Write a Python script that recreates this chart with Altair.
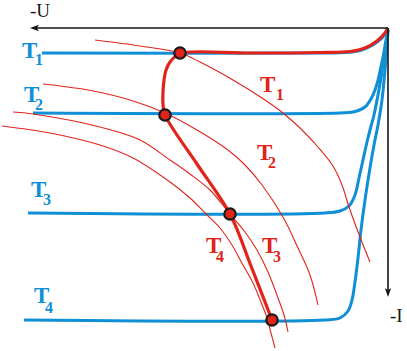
import altair as alt
import pandas as pd

BLUE = "#0e8fd6"
RED = "#e2231a"
BLACK = "#151515"

# ---- Blue isotherm curves (U leftwards from origin, I downwards) ----
BLUE_T1_U = [346, 60, 43, 33, 25, 17, 11, 6, 3, 0]
BLUE_T1_I = [25, 25, 24.6, 23.5, 21.5, 18, 14, 10, 5.5, 0]
BLUE_T2_U = [355, 48, 35, 23, 16, 11, 8, 5, 2, 0]
BLUE_T2_I = [85, 85, 84, 79, 69, 56, 43, 29, 12, 2]
BLUE_T3_U = [360, 63, 48, 39, 33, 29, 25, 21, 18, 14, 10, 6, 3, 1, 0]
BLUE_T3_I = [185, 185, 183, 178, 167, 150, 132, 114, 102, 87, 67, 44, 22, 10, 2]
BLUE_T4_U = [364, 63, 48, 40, 36, 33, 30, 27, 23, 18, 14, 10, 6, 3, 1, 0]
BLUE_T4_I = [292, 292, 290, 283, 272, 254, 230, 202, 172, 140, 117, 97, 72, 42, 17, 2]

# ---- Red thin curves ----
RED_T1_U = [293, 248, 208, 188, 155, 123, 105, 88, 70, 55, 46, 39, 28, 18]
RED_T1_I = [12, 18, 25, 34, 52, 72, 85, 100, 119, 138, 157, 179, 209, 234]
RED_T2_U = [345, 300, 258, 223, 191, 160, 143, 126, 105, 90, 78, 70]
RED_T2_I = [56, 62, 72, 85, 102, 122, 137, 157, 189, 220, 247, 277]
RED_T3_U = [375, 355, 288, 248, 218, 198, 178, 158, 143, 131, 120, 110, 104, 100]
RED_T3_I = [84, 86, 99, 112, 132, 146, 162, 186, 204, 222, 244, 270, 287, 304]
RED_T4_U = [386, 338, 288, 255, 218, 198, 183, 168, 156, 145, 135, 127, 121, 117, 113]
RED_T4_I = [98, 105, 117, 130, 154, 170, 185, 200, 217, 237, 255, 274, 290, 305, 320]

# ---- Red thick locus ----
LOCUS_U = [0, 3, 11, 23, 38, 68, 138, 203, 212, 218, 222, 224, 225, 225, 223, 191, 158, 137, 116]
LOCUS_I = [0, 5, 13, 20, 23.5, 24.5, 25, 24.5, 28, 34, 42, 52, 64, 76, 87, 136, 186, 238, 292]

# ---- Operating points ----
DOT_U = [208, 223, 158, 116]
DOT_I = [25, 87, 186, 292]

# ---- Labels ----
LAB_MAIN = ["T", "T", "T", "T", "T", "T", "T", "T"]
LAB_SUB = ["1", "2", "3", "4", "1", "2", "3", "4"]
LAB_COLOR = [BLUE, BLUE, BLUE, BLUE, RED, RED, RED, RED]
LAB_U = [366, 364, 357, 354, 128, 131, 126, 182]
LAB_I = [30, 74, 169, 275, 64, 132, 225, 225]
SUB_U = [353, 353, 345, 343, 112, 120, 115, 172]
SUB_I = [37, 82, 177, 285, 72, 140, 234, 234]

AXIS_TEXT = ["-U", "-I"]
AXIS_TEXT_U = [358, -2]
AXIS_TEXT_I = [-11, 294]

# axes: origin and extents
AX_H_U = [0, 352]
AX_H_I = [0, 0]
AX_V_U = [0, 0]
AX_V_I = [0, 262]
ARROW_U = [353.5, 0]
ARROW_I = [0, 264.5]


def frame(name, us, iis):
    return pd.DataFrame({"curve": name, "U": us, "I": iis, "k": list(range(len(us)))})


blue_df = pd.concat([
    frame("b1", BLUE_T1_U, BLUE_T1_I),
    frame("b2", BLUE_T2_U, BLUE_T2_I),
    frame("b3", BLUE_T3_U, BLUE_T3_I),
    frame("b4", BLUE_T4_U, BLUE_T4_I),
])
red_df = pd.concat([
    frame("r1", RED_T1_U, RED_T1_I),
    frame("r2", RED_T2_U, RED_T2_I),
    frame("r3", RED_T3_U, RED_T3_I),
    frame("r4", RED_T4_U, RED_T4_I),
])
locus_df = frame("locus", LOCUS_U, LOCUS_I)
dots_df = pd.DataFrame({"U": DOT_U, "I": DOT_I})
axes_df = pd.concat([frame("h", AX_H_U, AX_H_I), frame("v", AX_V_U, AX_V_I)])
main_df = pd.DataFrame({"U": LAB_U, "I": LAB_I, "t": LAB_MAIN, "c": LAB_COLOR})
sub_df = pd.DataFrame({"U": SUB_U, "I": SUB_I, "t": LAB_SUB, "c": LAB_COLOR})
axt_df = pd.DataFrame({"U": AXIS_TEXT_U, "I": AXIS_TEXT_I, "t": AXIS_TEXT})
arrow_l_df = pd.DataFrame({"U": ARROW_U[:1], "I": ARROW_I[:1]})
arrow_d_df = pd.DataFrame({"U": ARROW_U[1:], "I": ARROW_I[1:]})

X = alt.X("U:Q", scale=alt.Scale(domain=[-19, 388], reverse=True, nice=False, zero=False), axis=None)
Y = alt.Y("I:Q", scale=alt.Scale(domain=[-28, 323], reverse=True, nice=False, zero=False), axis=None)

blue = alt.Chart(blue_df).mark_line(color=BLUE, strokeWidth=3, interpolate="catmull-rom").encode(
    x=X, y=Y, detail="curve:N", order="k:Q")
red = alt.Chart(red_df).mark_line(color=RED, strokeWidth=1.1, interpolate="catmull-rom").encode(
    x=X, y=Y, detail="curve:N", order="k:Q")
locus = alt.Chart(locus_df).mark_line(color=RED, strokeWidth=3.2, interpolate="catmull-rom").encode(
    x=X, y=Y, order="k:Q")
axes = alt.Chart(axes_df).mark_line(color=BLACK, strokeWidth=1.6).encode(
    x=X, y=Y, detail="curve:N", order="k:Q")
arrow_l = alt.Chart(arrow_l_df).mark_point(
    shape="M-1,0L1,-0.7L0.5,0L1,0.7Z", size=81, filled=True, color=BLACK, opacity=1).encode(x=X, y=Y)
arrow_d = alt.Chart(arrow_d_df).mark_point(
    shape="M0,1L-0.7,-1L0,-0.5L0.7,-1Z", size=81, filled=True, color=BLACK, opacity=1).encode(x=X, y=Y)
dots = alt.Chart(dots_df).mark_point(
    shape="circle", size=130, filled=True, fill=RED, stroke="#1a1a1a", strokeWidth=2.2, opacity=1).encode(x=X, y=Y)
main_txt = alt.Chart(main_df).mark_text(
    font="Liberation Serif", fontSize=23, fontWeight="bold", align="left", baseline="alphabetic").encode(
    x=X, y=Y, text="t:N", color=alt.Color("c:N", scale=None))
sub_txt = alt.Chart(sub_df).mark_text(
    font="Liberation Serif", fontSize=16, fontWeight="bold", align="left", baseline="alphabetic").encode(
    x=X, y=Y, text="t:N", color=alt.Color("c:N", scale=None))
axis_txt = alt.Chart(axt_df).mark_text(
    font="Liberation Serif", fontSize=19, align="left", baseline="alphabetic", color=BLACK).encode(
    x=X, y=Y, text="t:N")

chart = alt.layer(blue, red, locus, axes, arrow_l, arrow_d, dots, main_txt, sub_txt, axis_txt).properties(
    width=407, height=351, autosize=alt.AutoSizeParams(type="none"), padding=0,
    background="white").configure_view(stroke=None)

chart.save("out.html", embed_options={"renderer": "svg", "actions": False})
